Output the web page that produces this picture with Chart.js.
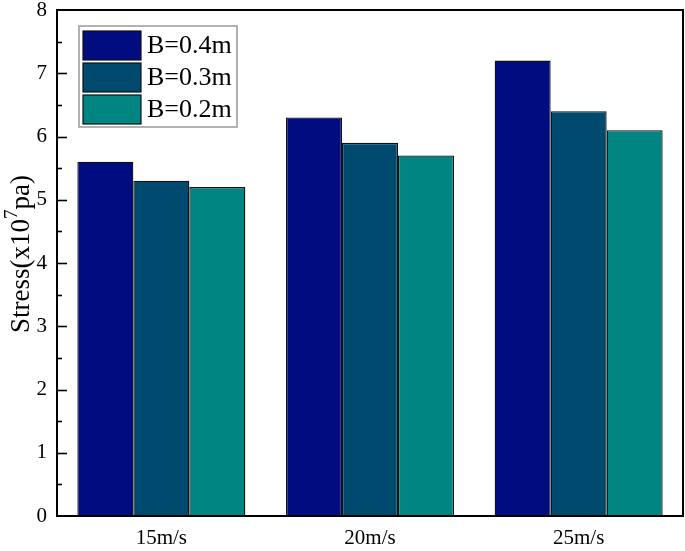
<!DOCTYPE html>
<html>
<head>
<meta charset="utf-8">
<script src="https://cdn.jsdelivr.net/npm/chart.js@4.4.0/dist/chart.umd.min.js"></script>
<style>
  html, body { margin: 0; padding: 0; background: #fff; }
  #wrap { width: 685px; height: 551px; }
</style>
</head>
<body>
<div id="wrap"><canvas id="myChart"></canvas></div>
<script>
const speeds = ['15m/s', '20m/s', '25m/s'];
const seriesNames = ['B=0.4m', 'B=0.3m', 'B=0.2m'];
const stressB04 = [5.6, 6.3, 7.2];
const stressB03 = [5.3, 5.9, 6.4];
const stressB02 = [5.2, 5.7, 6.1];
const barColors = ['#000c80', '#004a70', '#008582'];

const serif = '"Liberation Serif", "DejaVu Serif", serif';

// frame, inward ticks, legend box and y title
const decorations = {
  id: 'decorations',
  afterDraw(chart) {
    const c = chart.ctx;
    const a = chart.chartArea;
    const y = chart.scales.y;
    c.save();
    c.strokeStyle = '#000';
    c.lineWidth = 2;
    c.strokeRect(a.left, a.top, a.right - a.left, a.bottom - a.top);
    c.lineWidth = 1.6;
    for (let v = 0.5; v < 8; v += 0.5) {
      const py = Math.round(y.getPixelForValue(v)) + 0.5;
      const len = (v % 1 === 0) ? 10 : 5;
      c.beginPath();
      c.moveTo(a.left, py);
      c.lineTo(a.left + len, py);
      c.stroke();
    }

    // legend
    const lx = 79, ly = 26, lw = 158, lh = 101;
    c.strokeStyle = '#999';
    c.lineWidth = 1.5;
    c.strokeRect(lx, ly, lw, lh);
    c.font = '26px ' + serif;
    c.textBaseline = 'middle';
    chart.data.datasets.forEach((ds, i) => {
      const sy = ly + 5 + i * 32;
      c.fillStyle = ds.backgroundColor;
      c.fillRect(lx + 4, sy, 58, 29);
      c.strokeStyle = '#111';
      c.lineWidth = 1.2;
      c.strokeRect(lx + 4, sy, 58, 29);
      c.fillStyle = '#000';
      c.fillText(ds.label, lx + 68, sy + 15);
    });

    // y axis title with superscript
    c.translate(22, 254);
    c.rotate(-Math.PI / 2);
    c.textBaseline = 'middle';
    const p1 = 'Stress(x10', p2 = '7', p3 = 'pa)';
    c.font = '27px ' + serif;
    const w1 = c.measureText(p1).width, w3 = c.measureText(p3).width;
    c.font = '19px ' + serif;
    const w2 = c.measureText(p2).width;
    let x = -(w1 + w2 + w3) / 2;
    c.font = '27px ' + serif;
    c.fillText(p1, x, 0);
    x += w1;
    c.font = '19px ' + serif;
    c.fillText(p2, x, -10);
    x += w2;
    c.font = '27px ' + serif;
    c.fillText(p3, x, 0);
    c.restore();
  }
};

const ctx = document.getElementById('myChart').getContext('2d');
let myChart = new Chart(ctx, {
  type: 'bar',
  data: {
    labels: speeds,
    datasets: [
      { label: seriesNames[0], data: stressB04, backgroundColor: barColors[0] },
      { label: seriesNames[1], data: stressB03, backgroundColor: barColors[1] },
      { label: seriesNames[2], data: stressB02, backgroundColor: barColors[2] }
    ].map(d => Object.assign(d, {
      borderColor: '#111',
      borderWidth: 1.3,
      categoryPercentage: 0.805,
      barPercentage: 1
    }))
  },
  options: {
    responsive: true,
    maintainAspectRatio: false,
    animation: false,
    layout: { padding: { top: 10, right: 2, left: 0, bottom: 0 } },
    plugins: {
      legend: { display: false },
      tooltip: { enabled: false }
    },
    scales: {
      x: {
        grid: { display: false, drawTicks: false },
        border: { display: false },
        ticks: { color: '#000', font: { family: serif, size: 21 }, padding: 10 },
        afterFit(s) { s.height = 35; s.paddingLeft = 0; s.paddingRight = 0; }
      },
      y: {
        min: 0,
        max: 8,
        grid: { display: false, drawTicks: false },
        border: { display: false },
        ticks: { stepSize: 1, color: '#000', font: { family: serif, size: 21 }, padding: 10 },
        afterFit(s) { s.width = 57; s.paddingTop = 0; s.paddingBottom = 0; }
      }
    }
  },
  plugins: [decorations]
});
</script>
</body>
</html>
